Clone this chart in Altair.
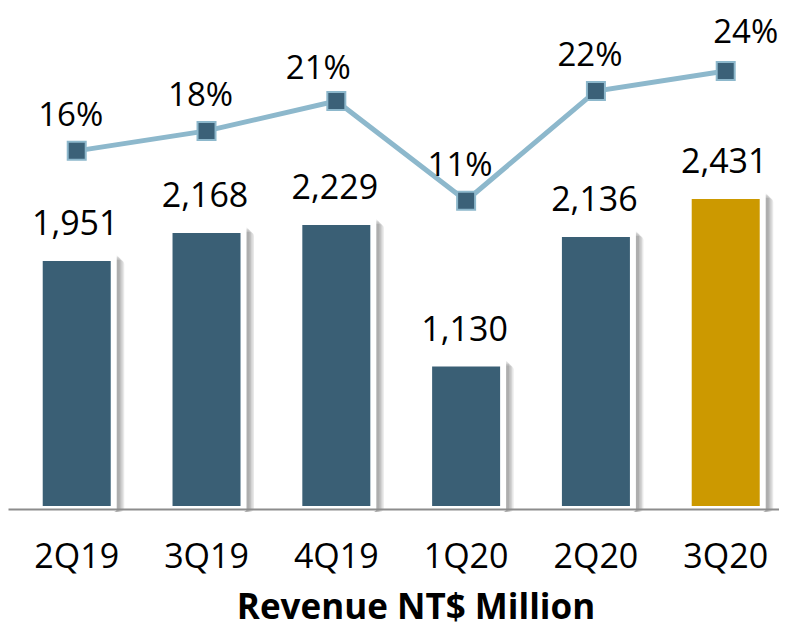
import altair as alt
import pandas as pd

quarters = ["2Q19", "3Q19", "4Q19", "1Q20", "2Q20", "3Q20"]
revenue = [1951, 2168, 2229, 1130, 2136, 2431]
margin_pct = [16, 18, 21, 11, 22, 24]
period_type = ["past", "past", "past", "past", "past", "current"]

df = pd.DataFrame({
    "q": quarters,
    "rev": revenue,
    "pct": margin_pct,
    "kind": period_type,
})
df["rev_label"] = [f"{v:,}" for v in revenue]
df["pct_label"] = [f"{v}%" for v in margin_pct]

FONT = "Open Sans"
BAR = "#3a5f75"
GOLD = "#cc9900"
LINE = "#8db8cc"
MARK = "#3b6178"

x_enc = alt.X(
    "q:N",
    sort=quarters,
    scale=alt.Scale(paddingInner=0.476, paddingOuter=0.208, align=0.643),
    axis=alt.Axis(
        title="Revenue NT$ Million",
        labelFont=FONT, labelFontSize=34, labelColor="#000", labelAngle=0,
        labelBaseline="alphabetic", labelPadding=58,
        ticks=False, tickSize=0, grid=False,
        domainColor="#8c8c8c", domainWidth=2, offset=-3, zindex=1,
        titleFont=FONT, titleFontSize=35, titleFontWeight="bold", titleColor="#000",
        titleX=407.5, titleY=109, titleBaseline="alphabetic", titleAlign="center",
    ),
)

y_rev = alt.Y("rev:Q", scale=alt.Scale(domain=[0, 3916], nice=False, zero=False), axis=None)
y_pct = alt.Y("pct:Q", scale=alt.Scale(domain=[-20.2, 30.32], nice=False, zero=False), axis=None)

base = alt.Chart(df)

shadows = [
    base.mark_bar(width=82, color="#000", opacity=0.09, cornerRadius=4,
                  xOffset=0.5 + 1.5 * i, yOffset=-7 + 1.5 * i)
    .encode(x=x_enc, y=y_rev, y2=alt.datum(0))
    for i in range(1, 5)
]

frame = base.mark_bar(width=82, color="#ffffff", cornerRadius=3, xOffset=-1, yOffset=-8).encode(
    x=x_enc, y=y_rev, y2=alt.datum(0)
)

bars = base.mark_bar(width=68, y2Offset=-6).encode(
    x=x_enc, y=y_rev, y2=alt.datum(0),
    color=alt.Color("kind:N", scale=alt.Scale(domain=["past", "current"], range=[BAR, GOLD]), legend=None),
)

rev_text = base.mark_text(font=FONT, fontSize=34, color="#000", baseline="alphabetic", dy=-26, dx=-1.5).encode(
    x=x_enc, y=y_rev, text="rev_label:N"
)

bar_layer = alt.layer(*shadows, frame, bars, rev_text)

line = base.mark_line(color=LINE, strokeWidth=5).encode(x=x_enc, y=y_pct)
marks = base.mark_point(shape="square", filled=True, size=324, fill=MARK, stroke=LINE,
                        strokeWidth=2, opacity=1, strokeOpacity=1, fillOpacity=1).encode(x=x_enc, y=y_pct)

PCT_SIZE = 33
pct_general = base.transform_filter(
    "datum.q != '4Q19' && datum.q != '3Q20'"
).mark_text(font=FONT, fontSize=PCT_SIZE, color="#000", baseline="alphabetic", dx=-6, dy=-25).encode(
    x=x_enc, y=y_pct, text="pct_label:N"
)
pct_21 = base.transform_filter("datum.q == '4Q19'").mark_text(
    font=FONT, fontSize=PCT_SIZE, color="#000", baseline="alphabetic", dx=-18, dy=-22
).encode(x=x_enc, y=y_pct, text="pct_label:N")
pct_24 = base.transform_filter("datum.q == '3Q20'").mark_text(
    font=FONT, fontSize=PCT_SIZE, color="#000", baseline="alphabetic", dx=20, dy=-28
).encode(x=x_enc, y=y_pct, text="pct_label:N")

line_layer = alt.layer(line, marks, pct_general, pct_21, pct_24)

chart = (
    alt.layer(bar_layer, line_layer)
    .resolve_scale(y="independent")
    .properties(
        width=771, height=504,
        autosize=alt.AutoSizeParams(type="none"),
        padding={"left": 0, "top": 0, "right": 0, "bottom": 118},
        view=alt.ViewBackground(strokeWidth=0, strokeOpacity=0, stroke="transparent"),
    )
    .configure_view(strokeWidth=0, strokeOpacity=0, stroke="transparent")
    .configure(background="#ffffff")
)

chart.save("out.html", embed_options={"renderer": "svg", "actions": False})
